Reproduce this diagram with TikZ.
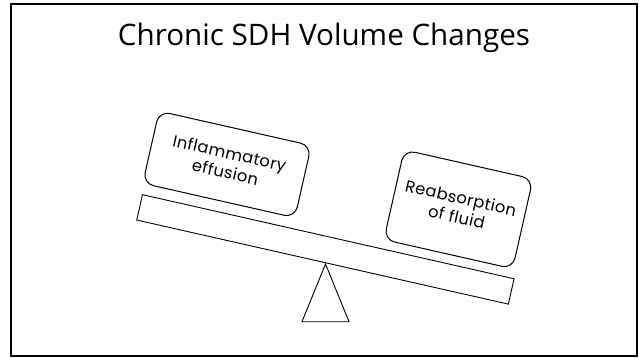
\documentclass[tikz,border=0pt]{standalone}
\usepackage{fontspec}
\setmainfont{Open Sans}
\newfontfamily\boxfont[LetterSpace=2.5]{Poppins}
\begin{document}
\begin{tikzpicture}[x=1pt,y=-1pt,
  frame/.style={draw=black,line width=2pt},
  weight/.style={draw=black,line width=1pt,rounded corners=11pt,rotate=-12.75,
    align=center,inner sep=0pt,font=\boxfont\fontsize{16.3}{19.5}\selectfont},
  plankbox/.style={draw=black,line width=0.9pt,rotate=-12.75,inner sep=0pt},
  fulcrum/.style={draw=black,line width=0.9pt,line join=miter}]
\useasboundingbox (0,0) rectangle (639,358);
\draw[frame] (11,4) rectangle (636.5,355.5);
\node[anchor=base] (title) at (324,45.5) {\resizebox{412pt}{!}{\fontsize{26}{30}\selectfont Chronic SDH Volume Changes}};
\node[plankbox,minimum width=381pt,minimum height=26pt] (plank) at (325.4,249.4) {};
\node[weight,minimum width=156pt,minimum height=74pt] (infl) at (227,164.4) {Inflammatory\\effusion\rule[-4pt]{0pt}{4pt}};
\node[weight,minimum width=132pt,minimum height=92pt] (reab) at (458.4,209.3) {Reabsorption\\of fluid\rule[-4pt]{0pt}{4pt}};
\coordinate (apex) at (325.5,264);
\coordinate (bl) at (302,321.7);
\coordinate (br) at (349,321.7);
\draw[fulcrum] (apex) -- (bl) -- (br) -- cycle;
\end{tikzpicture}
\end{document}
